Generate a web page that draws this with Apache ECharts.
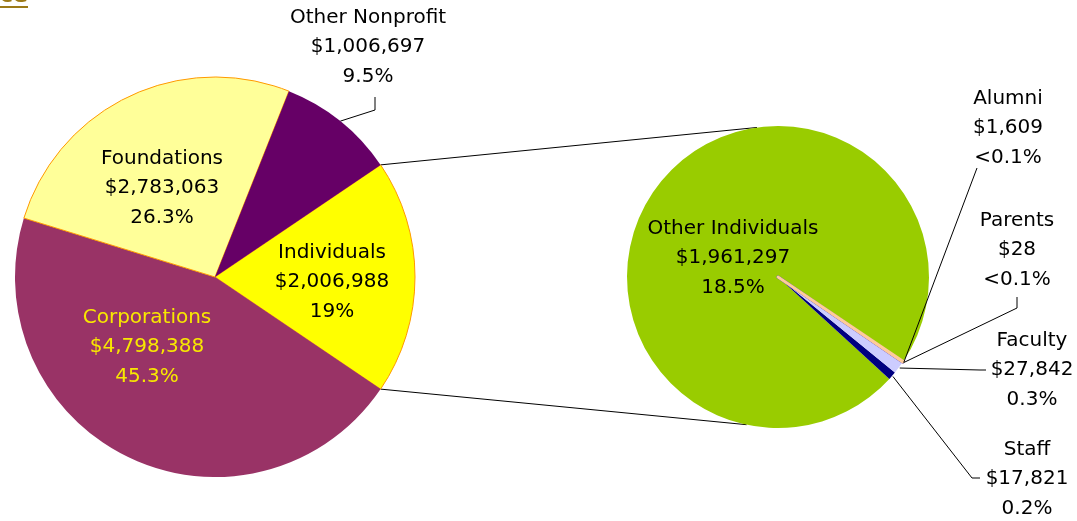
<!DOCTYPE html>
<html>
<head>
<meta charset="utf-8">
<script src="https://cdn.jsdelivr.net/npm/echarts@6/dist/echarts.min.js"></script>
<style>
  html, body { margin: 0; padding: 0; background: #fff; }
  #main { width: 1077px; height: 521px; }
</style>
</head>
<body>
<div id="main"></div>
<script>
// gifts by source
const sourceNames = ['Individuals', 'Corporations', 'Foundations', 'Other Nonprofit']
const sourceValues = [2006988, 4798388, 2783063, 1006697]
const sourcePct = ['19%', '45.3%', '26.3%', '9.5%']

// breakdown of individuals (drawn counter-clockwise so the big slice goes first)
const individualNames = ['Other Individuals', 'Staff', 'Faculty', 'Parents', 'Alumni']
const individualValues = [1961297, 17821, 27842, 28, 1609]
const individualPct = ['18.5%', '0.2%', '0.3%', '<0.1%', '<0.1%']

const sourceColors = ['#ffff00', '#993366', '#ffff99', '#660066']
const individualColors = ['#99cc00', '#000080', '#ccccff', '#0000ff', '#ffcc99']

const leftCenter = [215, 277]
const leftRadius = 200
const rightCenter = [778, 277]
const rightRadius = 151

const total = sourceValues.reduce((a, b) => a + b, 0)
const indTotal = individualValues.reduce((a, b) => a + b, 0)
const leftStart = 360 * sourceValues[0] / total / 2
const rightStart = -34

// label placement (centre of each text block) and leader line bends
const leftLabelPos = [[332, 282], [147, 347], [162, 188], [368, 47]]
const leftLineBends = [null, null, null, [[375, 110], [375, 97]]]
const rightLabelPos = [[733, 258], [1027, 479], [1032, 370], [1017, 250], [1008, 128]]
const rightLineBends = [
  null,
  [[972, 478], [980, 478]],
  [[980, 370], [986, 370]],
  [[1017, 308], [1017, 297]],
  [[977, 168], [977, 168]]
]

const fmt = v => '$' + v.toLocaleString('en-US')
const font = { fontFamily: 'DejaVu Sans', fontSize: 20, lineHeight: 29.5, color: '#000' }
const guide = { show: true, showAbove: true, minTurnAngle: 0, maxSurfaceAngle: 180, lineStyle: { color: '#000', width: 1 } }

function polar (c, r, deg) {
  const a = deg * Math.PI / 180
  return [c[0] + r * Math.cos(a), c[1] - r * Math.sin(a)]
}

// mid angle of each right slice, going counter-clockwise from rightStart
const rightMid = []
let acc = rightStart
individualValues.forEach(v => {
  const span = 360 * v / indTotal
  rightMid.push(acc + span / 2)
  acc += span
})

const leftLayout = function (p) {
  const xy = leftLabelPos[p.dataIndex]
  const out = { x: xy[0], y: xy[1], align: 'center', verticalAlign: 'middle' }
  const b = leftLineBends[p.dataIndex]
  if (b && p.labelLinePoints) out.labelLinePoints = [p.labelLinePoints[0], b[0], b[1]]
  return out
}

const rightLayout = function (p) {
  const xy = rightLabelPos[p.dataIndex]
  const out = { x: xy[0], y: xy[1], align: 'center', verticalAlign: 'middle' }
  const b = rightLineBends[p.dataIndex]
  if (b) out.labelLinePoints = [polar(rightCenter, rightRadius + 1, rightMid[p.dataIndex]), b[0], b[1]]
  return out
}

const leftData = sourceNames.map((name, i) => {
  const inside = i !== 3
  return {
    name: name,
    value: sourceValues[i],
    itemStyle: {
      color: sourceColors[i],
      borderColor: (i === 0 || i === 2) ? '#ff9900' : sourceColors[i],
      borderWidth: (i === 0 || i === 2) ? 1 : 0
    },
    label: {
      position: inside ? 'inside' : 'outside',
      formatter: name + '\n' + fmt(sourceValues[i]) + '\n' + sourcePct[i],
      color: i === 1 ? '#f8e800' : '#000'
    },
    labelLine: { show: !inside }
  }
})

// coloured slices of the right pie
const rightData = individualNames.map((name, i) => ({
  name: name,
  value: individualValues[i],
  itemStyle: {
    color: individualColors[i],
    borderColor: individualColors[i],
    borderWidth: i >= 3 ? 3 : 0
  }
}))

// same slices again, transparent, carrying the labels so leader lines sit on top
const rightLabelData = individualNames.map((name, i) => {
  const inside = i === 0
  return {
    name: name,
    value: individualValues[i],
    label: {
      position: inside ? 'inside' : 'outside',
      formatter: name + '\n' + fmt(individualValues[i]) + '\n' + individualPct[i]
    },
    labelLine: { show: !inside }
  }
})

const topA = polar(leftCenter, leftRadius, leftStart)
const botA = polar(leftCenter, leftRadius, -leftStart)
const topB = polar(rightCenter, rightRadius, 98)
const botB = polar(rightCenter, rightRadius, -102)

const myChart = echarts.init(document.getElementById('main'))

myChart.setOption({
  animation: false,
  graphic: [
    { type: 'line', shape: { x1: topA[0], y1: topA[1], x2: topB[0], y2: topB[1] }, style: { stroke: '#000', lineWidth: 1 }, z: 0 },
    { type: 'line', shape: { x1: botA[0], y1: botA[1], x2: botB[0], y2: botB[1] }, style: { stroke: '#000', lineWidth: 1 }, z: 0 },
    { type: 'text', x: 28, y: 7, style: { text: 'Source', align: 'right', verticalAlign: 'bottom', font: 'bold 22px "DejaVu Sans"', fill: '#9c7a18' } },
    { type: 'line', shape: { x1: 0, y1: 7, x2: 28, y2: 7 }, style: { stroke: '#9c7a18', lineWidth: 2 } }
  ],
  series: [
    {
      type: 'pie',
      center: leftCenter,
      radius: leftRadius,
      startAngle: leftStart,
      clockwise: true,
      avoidLabelOverlap: false,
      emphasis: { disabled: true },
      label: Object.assign({ show: true }, font),
      labelLine: guide,
      labelLayout: leftLayout,
      data: leftData
    },
    {
      type: 'pie',
      center: rightCenter,
      radius: rightRadius,
      startAngle: rightStart,
      clockwise: false,
      emphasis: { disabled: true },
      label: { show: false },
      labelLine: { show: false },
      data: rightData
    },
    {
      type: 'pie',
      z: 5,
      center: rightCenter,
      radius: rightRadius,
      startAngle: rightStart,
      clockwise: false,
      avoidLabelOverlap: false,
      silent: true,
      emphasis: { disabled: true },
      itemStyle: { color: 'rgba(0,0,0,0)', borderWidth: 0 },
      label: Object.assign({ show: true }, font),
      labelLine: guide,
      labelLayout: rightLayout,
      data: rightLabelData
    }
  ]
})
</script>
</body>
</html>
